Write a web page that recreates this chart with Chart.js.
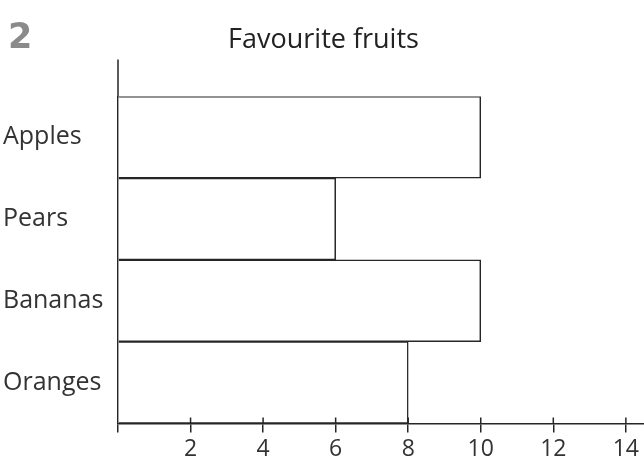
<!DOCTYPE html>
<html>
<head>
<meta charset="utf-8">
<title>Favourite fruits</title>
<script src="https://cdn.jsdelivr.net/npm/chart.js@4.4.1/dist/chart.umd.min.js"></script>
<style>
  html, body { margin: 0; padding: 0; background: #fff; }
  #wrap { position: relative; width: 644px; height: 476px; }
  #qnum {
    position: absolute; left: 8px; top: 16px;
    font: bold 35px 'DejaVu Sans', sans-serif; color: #8a8a8a;
  }
</style>
</head>
<body>
<div id="wrap">
  <div id="qnum">2</div>
  <canvas id="chart" width="644" height="476"></canvas>
</div>
<script>
// 数据
const fruits = ['Apples', 'Pears', 'Bananas', 'Oranges'];
const counts = [10, 6, 10, 8];
const xMax = 14.5;
const xStep = 2;

const ink = '#262626';
Chart.defaults.font.family = "'Open Sans', sans-serif";
Chart.defaults.color = '#333';

// 轴线向上延伸，x 轴刻度穿过轴线
const axisExtras = {
  id: 'axisExtras',
  afterDraw(chart) {
    const { ctx, chartArea, scales } = chart;
    ctx.save();
    ctx.strokeStyle = ink;
    ctx.lineWidth = 1.5;
    ctx.beginPath();
    ctx.moveTo(chartArea.left, chartArea.top - 37);
    ctx.lineTo(chartArea.left, chartArea.top);
    scales.x.ticks.forEach(t => {
      if (t.value === 0) return;
      const px = scales.x.getPixelForValue(t.value);
      ctx.moveTo(px, chartArea.bottom - 6);
      ctx.lineTo(px, chartArea.bottom);
    });
    ctx.stroke();
    ctx.restore();
  }
};

new Chart(document.getElementById('chart'), {
  type: 'bar',
  data: {
    labels: fruits,
    datasets: [{
      data: counts,
      backgroundColor: '#fff',
      borderColor: ink,
      borderWidth: 1.5,
      barPercentage: 1,
      categoryPercentage: 1
    }]
  },
  options: {
    indexAxis: 'y',
    responsive: false,
    animation: false,
    layout: { padding: { left: 3, right: 0, bottom: 10 } },
    plugins: {
      legend: { display: false },
      tooltip: { enabled: false },
      title: {
        display: true,
        text: 'Favourite fruits',
        color: '#222',
        font: { size: 27, weight: 'normal' },
        padding: { top: 24, bottom: 40 }
      }
    },
    scales: {
      x: {
        min: 0,
        max: xMax,
        grid: { drawOnChartArea: false, drawTicks: true, tickLength: 9, color: ink, lineWidth: 1.5 },
        border: { display: true, color: ink, width: 1.5 },
        ticks: {
          stepSize: xStep,
          includeBounds: false,
          padding: 3,
          color: '#333',
          font: { size: 23 },
          callback: v => (v === 0 ? '' : v)
        }
      },
      y: {
        grid: { display: false, drawTicks: false },
        border: { display: true, color: ink, width: 1.5 },
        ticks: {
          crossAlign: 'far',
          padding: 0,
          color: '#333',
          font: { size: 25 }
        },
        afterFit(scale) { scale.width = 115; }
      }
    }
  },
  plugins: [axisExtras]
});
</script>
</body>
</html>
